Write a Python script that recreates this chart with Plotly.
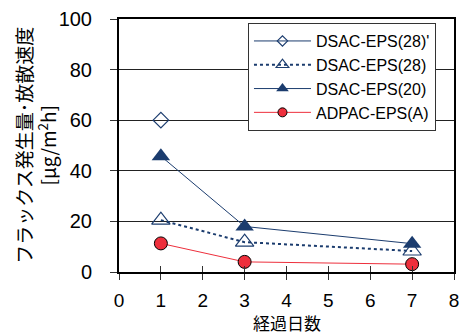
import plotly.graph_objects as go

# Elapsed days and measured flux / emission rates [μg/m²h]
days = [1, 3, 7]
dsac_28p = [60]
dsac_28 = [20.5, 11.8, 8.3]
dsac_20 = [45.8, 18.0, 11.2]
adpac_a = [11.3, 4.0, 3.1]

series_names = ["DSAC-EPS(28)'", "DSAC-EPS(28)", "DSAC-EPS(20)", "ADPAC-EPS(A)"]
x_ticks = list(range(0, 9))
y_ticks = [0, 20, 40, 60, 80, 100]

NAVY = "#1B3C6E"
RED = "#EE2F3C"
FONT = "Liberation Sans, Arial, sans-serif"
CJK = "Noto Sans CJK JP, sans-serif"

styles = [
    dict(line=dict(color=NAVY, width=1),
         marker=dict(symbol="diamond-open", size=12, color=NAVY, line=dict(width=1.2))),
    dict(line=dict(color=NAVY, width=2, dash="dot"),
         marker=dict(symbol="triangle-up-open", size=16, color=NAVY, line=dict(width=1.2))),
    dict(line=dict(color=NAVY, width=1),
         marker=dict(symbol="triangle-up", size=16, color=NAVY)),
    dict(line=dict(color=RED, width=1),
         marker=dict(symbol="circle", size=13, color=RED, line=dict(color="black", width=1))),
]
xs = [days[:1], days, days, days]
ys = [dsac_28p, dsac_28, dsac_20, adpac_a]

fig = go.Figure()
for name, st, x, y in zip(series_names, styles, xs, ys):
    fig.add_trace(go.Scatter(x=x, y=y, name=name, mode="lines+markers",
                             showlegend=False, **st))
# legend keys with smaller symbols than the plotted markers
for name, st in zip(series_names, styles):
    key_marker = dict(st["marker"])
    key_marker["size"] = round(key_marker["size"] * 0.7)
    fig.add_trace(go.Scatter(x=[None], y=[None], name=name, mode="lines+markers",
                             line=st["line"], marker=key_marker))
# invisible trace carrying the inner half of the crossing x ticks
fig.add_trace(go.Scatter(x=[0], y=[0], xaxis="x2", showlegend=False,
                         mode="markers", marker=dict(opacity=0), hoverinfo="skip"))

fig.update_layout(
    width=467, height=336,
    margin=dict(l=119, r=8, t=16, b=64),
    paper_bgcolor="white", plot_bgcolor="white",
    font=dict(family=FONT, size=19, color="black"),
    showlegend=True,
    legend=dict(
        x=0.385, y=0.984, xanchor="left", yanchor="top",
        bgcolor="white", bordercolor="#333333", borderwidth=1,
        font=dict(family=FONT, size=16, color="black"),
        itemwidth=57, tracegroupgap=0,
    ),
    xaxis=dict(
        range=[0, 8], tickvals=x_ticks, ticktext=[str(v) for v in x_ticks],
        ticks="outside", ticklen=6, tickwidth=1, tickcolor="#333",
        showgrid=False, zeroline=False,
        showline=True, linecolor="black", linewidth=2, mirror=True,
        tickfont=dict(family=FONT, size=19), ticklabelstandoff=4,
    ),
    xaxis2=dict(
        range=[0, 8], overlaying="x", tickvals=x_ticks,
        ticks="inside", ticklen=6, tickwidth=1, tickcolor="#333",
        showticklabels=False, showgrid=False, zeroline=False, anchor="y",
        side="bottom",
    ),
    yaxis=dict(
        range=[0, 100], tickvals=y_ticks,
        ticks="outside", ticklen=7, tickwidth=1, tickcolor="#333",
        showgrid=True, gridcolor="#222222", gridwidth=1, zeroline=False,
        showline=True, linecolor="black", linewidth=2, mirror=True,
        tickfont=dict(family=FONT, size=20), ticklabelstandoff=14,
    ),
    annotations=[
        dict(text="フラックス発生量･放散速度<br>[μg/m<sup>2</sup>h]",
             xref="paper", yref="paper", x=-0.25, y=0.5,
             xanchor="center", yanchor="middle", textangle=-90, showarrow=False,
             font=dict(family=CJK, size=19, color="black")),
        dict(text="経過日数", xref="paper", yref="paper", x=0.5, y=-0.198,
             xanchor="center", yanchor="middle", showarrow=False,
             font=dict(family=CJK, size=17, color="black")),
    ],
)

fig.write_html("out.html")
